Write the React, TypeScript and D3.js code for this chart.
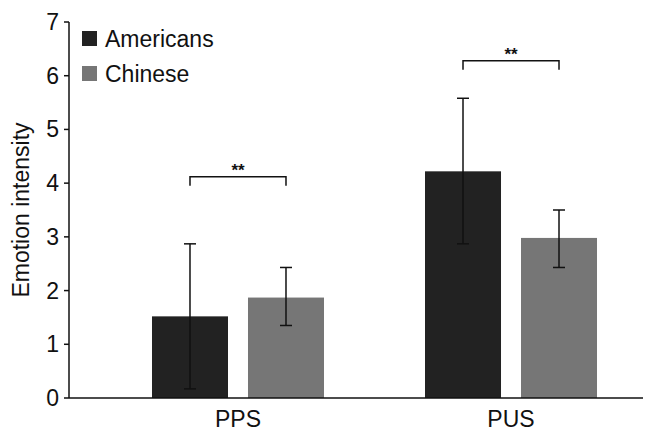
import React from "react";
import * as d3 from "d3";

const categories = ["PPS", "PUS"];
const seriesNames = ["Americans", "Chinese"];
const americans = [1.52, 4.22];
const chinese = [1.87, 2.98];
const americansErrLow = [0.17, 2.87];
const americansErrHigh = [2.87, 5.58];
const chineseErrLow = [1.35, 2.43];
const chineseErrHigh = [2.43, 3.5];
const sigLabels = ["**", "**"];
const sigLevels = [4.12, 6.28];
const yTicks = [0, 1, 2, 3, 4, 5, 6, 7];
const colors = ["#222222", "#767676"];

export default function App() {
  const W = 650, H = 435;
  const left = 69, right = 643, top = 22, bottom = 398;
  const y = d3.scaleLinear().domain([0, 7]).range([bottom, top]);
  const x0 = d3.scaleBand().domain(categories).range([left, 680]).paddingInner(0.37).paddingOuter(0.304);
  const x1 = d3.scaleBand().domain(seriesNames).range([0, x0.bandwidth()]).paddingInner(0.2083);
  const vals = [americans, chinese];
  const lo = [americansErrLow, chineseErrLow];
  const hi = [americansErrHigh, chineseErrHigh];
  const font = "'Liberation Sans', Arial, sans-serif";
  const cap = 6;
  return (
    <svg width={W} height={H} style={{ position: "absolute", left: 0, top: 0, background: "#fff" }} fontFamily={font}>
      {categories.map((c, ci) =>
        seriesNames.map((s, si) => {
          const bx = (x0(c) as number) + (x1(s) as number);
          const bw = x1.bandwidth();
          const cx = bx + bw / 2;
          return (
            <g key={c + s}>
              <rect x={bx} y={y(vals[si][ci])} width={bw} height={y(0) - y(vals[si][ci])} fill={colors[si]} />
              <line x1={cx} x2={cx} y1={y(lo[si][ci])} y2={y(hi[si][ci])} stroke="#111" strokeWidth={1.5} />
              <line x1={cx - cap} x2={cx + cap} y1={y(lo[si][ci])} y2={y(lo[si][ci])} stroke="#111" strokeWidth={1.5} />
              <line x1={cx - cap} x2={cx + cap} y1={y(hi[si][ci])} y2={y(hi[si][ci])} stroke="#111" strokeWidth={1.5} />
            </g>
          );
        })
      )}
      {categories.map((c, ci) => {
        const xa = (x0(c) as number) + (x1(seriesNames[0]) as number) + x1.bandwidth() / 2;
        const xb = (x0(c) as number) + (x1(seriesNames[1]) as number) + x1.bandwidth() / 2;
        const yy = y(sigLevels[ci]);
        return (
          <g key={"sig" + c}>
            <path d={`M${xa},${yy + 9}V${yy}H${xb}V${yy + 9}`} fill="none" stroke="#111" strokeWidth={1.5} />
            <text x={(xa + xb) / 2} y={yy - 1} textAnchor="middle" fontSize={17} fontWeight="bold" fill="#111">{sigLabels[ci]}</text>
          </g>
        );
      })}
      <line x1={left} x2={left} y1={top} y2={bottom} stroke="#111" strokeWidth={1.5} />
      <line x1={left} x2={right} y1={bottom} y2={bottom} stroke="#111" strokeWidth={1.5} />
      {yTicks.map((t) => (
        <g key={t}>
          <line x1={left - 5} x2={left} y1={y(t)} y2={y(t)} stroke="#111" strokeWidth={1.5} />
          <text x={left - 10} y={y(t)} dy="0.35em" textAnchor="end" fontSize={23} fill="#111">{t}</text>
        </g>
      ))}
      {categories.map((c) => (
        <text key={"xl" + c} x={(x0(c) as number) + x0.bandwidth() / 2} y={427} textAnchor="middle" fontSize={23} fill="#111">{c}</text>
      ))}
      <text transform={`translate(29,${y(3.5)}) rotate(-90)`} textAnchor="middle" fontSize={23} fill="#111">Emotion intensity</text>
      {seriesNames.map((s, si) => (
        <g key={"lg" + s} transform={`translate(82,${31 + si * 35})`}>
          <rect width={15} height={15} fill={colors[si]} />
          <text x={23} y={7.5} dy="0.35em" fontSize={23} fill="#111">{s}</text>
        </g>
      ))}
    </svg>
  );
}
